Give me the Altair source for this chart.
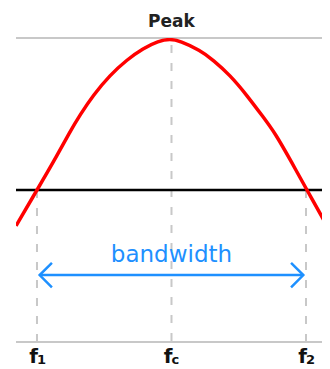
import altair as alt
import pandas as pd

# Curve: frequency (f1=1, fc=2, f2=3) vs relative amplitude
curve_f = [0.844, 1.0, 1.119, 1.245, 1.320, 1.419, 1.543, 1.667, 1.790, 1.902, 1.99,
           2.063, 2.212, 2.309, 2.435, 2.559, 2.680, 2.770, 2.896, 3.007, 3.164]
curve_a = [0.382, 0.5, 0.589, 0.692, 0.747, 0.8125, 0.878, 0.928, 0.966, 0.990, 0.997,
           0.990, 0.960, 0.928, 0.878, 0.8125, 0.741, 0.6875, 0.589, 0.5, 0.376]

freq_names = ["f", "f", "f"]
freq_subs = ["1", "c", "2"]
freq_pos = [1.0, 2.0, 3.0]
dash_top = [0.5, 0.977, 0.5]

half_level = 0.5
peak_level = 1.0
arrow_level = 0.22
arrow_start = 1.02
arrow_end = 2.98
x_domain = [0.844, 3.119]

RED = "#ff0000"
BLUE = "#1e90ff"
GRAY = "#c8c8c8"

curve_df = pd.DataFrame({"f": curve_f, "a": curve_a})
freq_df = pd.DataFrame({"f": freq_pos, "name": freq_names, "sub": freq_subs, "top": dash_top,
                        "bottom": [0.0, 0.0, 0.0]})
gray_df = pd.DataFrame({"y": [peak_level, 0.0]})
half_df = pd.DataFrame({"y": [half_level]})

xs = alt.Scale(domain=x_domain, nice=False, zero=False)
ys = alt.Scale(domain=[0, 1], nice=False, zero=False)


def X(field):
    return alt.X(field, type="quantitative", scale=xs, axis=None)


def Y(field):
    return alt.Y(field, type="quantitative", scale=ys, axis=None)


gray_lines = alt.Chart(gray_df).mark_rule(color=GRAY, strokeWidth=2).encode(y=Y("y"))

dashes = alt.Chart(freq_df).mark_rule(color=GRAY, strokeWidth=2, strokeDash=[8, 10]).encode(
    x=X("f"), y=Y("top"), y2="bottom"
)

half_line = alt.Chart(half_df).mark_rule(color="#000000", strokeWidth=2.5).encode(y=Y("y"))

curve = alt.Chart(curve_df).mark_line(color=RED, strokeWidth=3.5, interpolate="basis", clip=True).encode(
    x=X("f"), y=Y("a")
)

arrow_df = pd.DataFrame({"x1": [arrow_start], "x2": [arrow_end], "y": [arrow_level],
                         "label": ["bandwidth"], "mid": [2.0]})
arrow_line = alt.Chart(arrow_df).mark_rule(color=BLUE, strokeWidth=2.5).encode(
    x=X("x1"), x2="x2", y=Y("y")
)
head_left = alt.Chart(arrow_df).mark_point(
    shape="M1,-1L0,0L1,1", filled=False, stroke=BLUE, strokeWidth=2.5, size=600, opacity=1
).encode(x=X("x1"), y=Y("y"))
head_right = alt.Chart(arrow_df).mark_point(
    shape="M-1,-1L0,0L-1,1", filled=False, stroke=BLUE, strokeWidth=2.5, size=600, opacity=1
).encode(x=X("x2"), y=Y("y"))
bw_text = alt.Chart(arrow_df).mark_text(
    color=BLUE, font="DejaVu Sans", fontSize=23, align="center", baseline="alphabetic", dy=-13
).encode(x=X("mid"), y=Y("y"), text="label:N")

peak_df = pd.DataFrame({"f": [2.0], "a": [peak_level], "t": ["Peak"]})
peak_text = alt.Chart(peak_df).mark_text(
    font="DejaVu Sans", fontWeight="bold", fontSize=17, align="center", baseline="alphabetic",
    dy=-11, color="#222222"
).encode(x=X("f"), y=Y("a"), text="t:N")

f_text = alt.Chart(freq_df).mark_text(
    font="DejaVu Sans", fontWeight="bold", fontSize=20, align="right", baseline="top", dy=5, dx=1,
    color="#111111"
).encode(x=X("f"), y=Y("bottom"), text="name:N")
sub_text = alt.Chart(freq_df).mark_text(
    font="DejaVu Sans", fontWeight="bold", fontSize=13, align="left", baseline="top", dy=12, dx=0,
    color="#111111"
).encode(x=X("f"), y=Y("bottom"), text="sub:N")

chart = alt.layer(
    gray_lines, dashes, half_line, arrow_line, head_left, head_right, bw_text,
    curve, peak_text, f_text, sub_text
).properties(
    width=306, height=304,
    padding={"left": 8, "top": 30, "right": 0, "bottom": 30},
    autosize=alt.AutoSizeParams(type="none"),
    background="#ffffff",
).configure_view(stroke=None)

chart.save("out.html", embed_options={"renderer": "svg", "actions": False})
